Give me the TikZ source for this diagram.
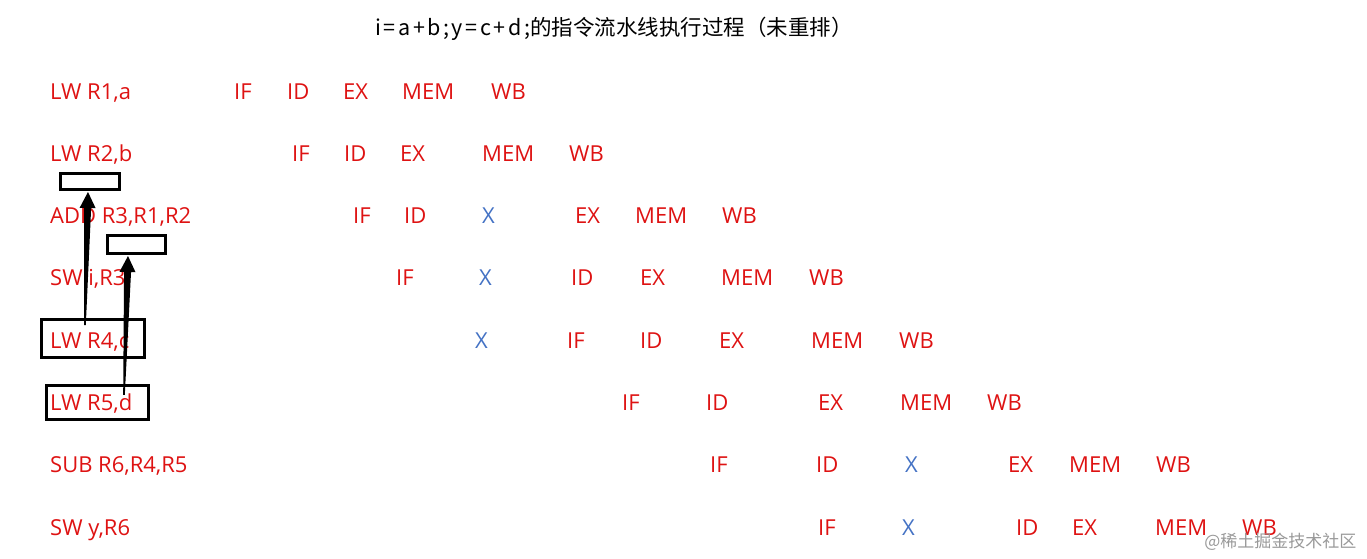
\documentclass[tikz,border=0pt]{standalone}
\usepackage{fontspec}
\setmainfont{Open Sans}
\newfontfamily\cjk{Noto Sans CJK SC}
\usetikzlibrary{calc}

\definecolor{instred}{RGB}{222,18,18}
\definecolor{stallblue}{RGB}{68,114,196}

\tikzset{
	instr/.style={anchor=base west, inner sep=0pt, text=instred, font=\fontsize{22}{26}\selectfont},
	stage/.style={instr},
	stall/.style={instr, text=stallblue},
	hazard/.style={draw, line width=2.6pt, inner sep=0pt},
}

% tapered arrow: #1 tail, #2 tip
\newcommand\taperarrow[2]{%
	\coordinate (hb) at ($(#2)!16pt!(#1)$);
	\fill ($(#1)!0.8pt!90:(#2)$) -- ($(hb)!3.5pt!-90:(#1)$) -- ($(hb)!8pt!-90:(#1)$) -- (#2)
		-- ($(hb)!8pt!90:(#1)$) -- ($(hb)!3.5pt!90:(#1)$) -- ($(#1)!0.8pt!-90:(#2)$) -- cycle;}

\begin{document}
\begin{tikzpicture}[x=1pt, y=-1pt]
	\useasboundingbox (0,0) rectangle (1367,558);
	\node[font=\cjk\fontsize{21.5}{24}\selectfont] (title) at (614,29)
		{{\addfontfeature{LetterSpace=12}i=a+b;y=c+d;}的指令流水线执行过程（未重排）};

	% instructions
	\node[instr] (lw1) at (50,99) {LW R1,a};
	\node[instr] (lw2) at (50,161.3) {LW R2,b};
	\node[instr] (add) at (50,223.6) {ADD R3,R1,R2};
	\node[instr] (sw1) at (50,285.9) {SW i,R3};
	\node[instr] (lw4) at (50,348.2) {LW R4,c};
	\node[instr] (lw5) at (50,410.5) {LW R5,d};
	\node[instr] (sub) at (50,472.8) {SUB R6,R4,R5};
	\node[instr] (sw2) at (50,535.1) {SW y,R6};

	% pipeline stages
	\foreach \s/\x in {IF/234,ID/287,EX/343,MEM/402,WB/491}
		\node[stage] (lw1-\s) at (\x,99) {\s};
	\foreach \s/\x in {IF/292,ID/344,EX/400,MEM/482,WB/569}
		\node[stage] (lw2-\s) at (\x,161.3) {\s};
	\foreach \s/\x in {IF/353,ID/404,EX/575,MEM/635,WB/722}
		\node[stage] (add-\s) at (\x,223.6) {\s};
	\node[stall] (add-X) at (482,223.6) {X};
	\foreach \s/\x in {IF/396,ID/571,EX/640,MEM/721,WB/809}
		\node[stage] (sw1-\s) at (\x,285.9) {\s};
	\node[stall] (sw1-X) at (479,285.9) {X};
	\foreach \s/\x in {IF/567,ID/640,EX/719,MEM/811,WB/899}
		\node[stage] (lw4-\s) at (\x,348.2) {\s};
	\node[stall] (lw4-X) at (475,348.2) {X};
	\foreach \s/\x in {IF/622,ID/706,EX/818,MEM/900,WB/987}
		\node[stage] (lw5-\s) at (\x,410.5) {\s};
	\foreach \s/\x in {IF/710,ID/816,EX/1008,MEM/1069,WB/1156}
		\node[stage] (sub-\s) at (\x,472.8) {\s};
	\node[stall] (sub-X) at (905,472.8) {X};
	\foreach \s/\x in {IF/818,ID/1016,EX/1072,MEM/1155,WB/1242}
		\node[stage] (sw2-\s) at (\x,535.1) {\s};
	\node[stall] (sw2-X) at (902,535.1) {X};

	% hazard boxes
	\node[hazard, minimum width=103pt, minimum height=38pt] (box4) at (93,338.5) {};
	\node[hazard, minimum width=102pt, minimum height=34.5pt] (box5) at (97.5,402.5) {};
	\node[hazard, minimum width=59.4pt, minimum height=16.4pt] (slot1) at (90,181.5) {};
	\node[hazard, minimum width=58.4pt, minimum height=18.4pt] (slot2) at (136.5,244.5) {};

	\coordinate (src4) at ($(box4.north)+(-8,7)$);
	\coordinate (tip4) at ($(slot1.south)+(-2,1)$);
	\coordinate (src5) at ($(box5.north)+(26.5,11)$);
	\coordinate (tip5) at ($(slot2.south)+(-8.5,1)$);
	\taperarrow{src4}{tip4}
	\taperarrow{src5}{tip5}

	\node[text=black!40, font=\cjk\fontsize{17}{20}\selectfont, anchor=east] (mark) at (1360,542) {@稀土掘金技术社区};
\end{tikzpicture}
\end{document}
